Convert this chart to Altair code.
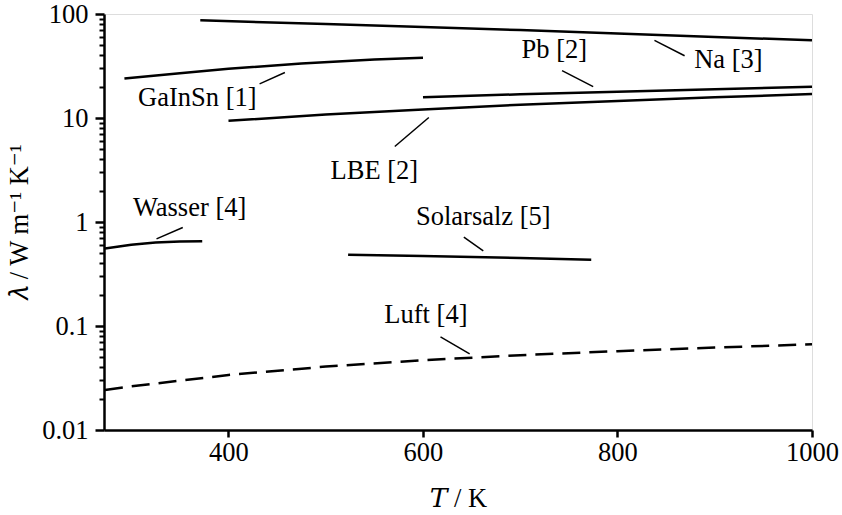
import altair as alt
import pandas as pd

# ---- data ----
na_T = [371, 500, 600, 700, 800, 900, 1000]
na_k = [87, 80, 75, 70, 65, 60, 56]
gainsn_T = [293, 350, 400, 475, 550, 600]
gainsn_k = [24, 27, 29.7, 33.5, 36.5, 38]
pb_T = [600, 700, 800, 900, 1000]
pb_k = [15.8, 16.9, 17.9, 18.9, 20.0]
lbe_T = [400, 500, 600, 700, 800, 900, 1000]
lbe_k = [9.4, 10.8, 12.1, 13.4, 14.6, 15.8, 17.0]
wasser_T = [273, 300, 325, 350, 373]
wasser_k = [0.555, 0.605, 0.635, 0.648, 0.652]
solar_T = [523, 600, 700, 773]
solar_k = [0.485, 0.47, 0.45, 0.433]
luft_T = [273, 300, 400, 500, 600, 700, 800, 900, 1000]
luft_k = [0.0243, 0.0263, 0.0338, 0.0407, 0.0469, 0.0524, 0.0573, 0.062, 0.0667]

# labels (text, T, lambda)
label_text = ["Na [3]", "Pb [2]", "GaInSn [1]", "LBE [2]", "Wasser [4]", "Solarsalz [5]", "Luft [4]"]
label_T = [914, 735, 368, 550, 360, 662, 603]
label_k = [36.3, 45.3, 15.7, 3.06, 1.37, 1.12, 0.128]

# leader lines (T1, k1) -> (T2, k2)
lead_T1 = [838, 743, 432, 571, 326, 642, 618]
lead_k1 = [55.7, 28.5, 21.3, 5.32, 0.689, 0.715, 0.0785]
lead_T2 = [869, 775, 458, 606, 353, 662, 648]
lead_k2 = [39.7, 20.0, 27.4, 10.1, 0.885, 0.528, 0.0539]

x_ticks = [400, 600, 800, 1000]
y_major = [0.01, 0.1, 1, 10, 100]
y_ticks = [0.01, 0.02, 0.03, 0.04, 0.05, 0.06, 0.07, 0.08, 0.09,
           0.1, 0.2, 0.3, 0.4, 0.5, 0.6, 0.7, 0.8, 0.9,
           1, 2, 3, 4, 5, 6, 7, 8, 9,
           10, 20, 30, 40, 50, 60, 70, 80, 90, 100]

# ---- tables ----
rows = []
for name, Ts, ks in [("Na", na_T, na_k), ("GaInSn", gainsn_T, gainsn_k),
                     ("Pb", pb_T, pb_k), ("LBE", lbe_T, lbe_k),
                     ("Wasser", wasser_T, wasser_k), ("Solarsalz", solar_T, solar_k)]:
    for t, k in zip(Ts, ks):
        rows.append({"series": name, "T": t, "k": k})
solid = pd.DataFrame(rows)
luft = pd.DataFrame({"T": luft_T, "k": luft_k})
labels = pd.DataFrame({"text": label_text, "T": label_T, "k": label_k})
leaders = pd.DataFrame({"T1": lead_T1, "k1": lead_k1, "T2": lead_T2, "k2": lead_k2})

FONT = "'Liberation Serif', 'Times New Roman', Times, 'DejaVu Serif', serif"
FS = 26.5
major_test = "indexof([0.01, 0.1, 1, 10, 100], datum.value) >= 0"

xscale = alt.Scale(domain=[272, 1000], nice=False, zero=False)
yscale = alt.Scale(type="log", domain=[0.01, 100], nice=False)

xaxis = alt.Axis(values=x_ticks, format="d", title="𝑇 / K", grid=False, tickSize=7, tickWidth=2.5,
                 domainWidth=2.5, domainColor="black", tickColor="black",
                 labelFont=FONT, labelFontSize=FS, labelColor="black", labelPadding=2,
                 titleFont=FONT, titleFontSize=FS, titleFontWeight="normal",
                 titleColor="black", titlePadding=20, labelFlush=False)
yaxis = alt.Axis(values=y_ticks, title="𝜆 / W m⁻¹ K⁻¹", grid=False,
                 tickSize={"condition": {"test": major_test, "value": 9}, "value": 5},
                 tickWidth={"condition": {"test": major_test, "value": 2.5}, "value": 2},
                 domainWidth=2.5, domainColor="black", tickColor="black",
                 labelExpr=major_test + " ? datum.label : ''", format="~g",
                 labelOverlap=False, labelFont=FONT, labelFontSize=FS,
                 labelColor="black", labelPadding=7, labelFlush=False,
                 titleFont=FONT, titleFontSize=FS, titleFontWeight="normal",
                 titleColor="black", titlePadding=8)

x_enc = alt.X("T:Q", scale=xscale, axis=xaxis)
y_enc = alt.Y("k:Q", scale=yscale, axis=yaxis)

solid_lines = alt.Chart(solid).mark_line(color="black", strokeWidth=2.5).encode(
    x=x_enc, y=y_enc, detail="series:N")
luft_line = alt.Chart(luft).mark_line(color="black", strokeWidth=2.5, strokeDash=[18, 9]).encode(
    x=x_enc, y=y_enc)
leader_rules = alt.Chart(leaders).mark_rule(color="black", strokeWidth=1.5).encode(
    x=alt.X("T1:Q", scale=xscale, axis=xaxis),
    y=alt.Y("k1:Q", scale=yscale, axis=yaxis),
    x2="T2:Q", y2="k2:Q")
label_marks = alt.Chart(labels).mark_text(font=FONT, fontSize=FS, color="black",
                                          align="center", baseline="middle").encode(
    x=x_enc, y=y_enc, text="text:N")

chart = alt.layer(solid_lines, luft_line, leader_rules, label_marks).properties(
    width=708, height=416,
    padding={"left": 104, "top": 14, "right": 30, "bottom": 85},
    autosize=alt.AutoSizeParams(type="none"),
).configure_view(stroke="black", strokeWidth=2.5).configure(background="white", font=FONT)

chart.save("out.html", embed_options={"renderer": "svg", "actions": False})
